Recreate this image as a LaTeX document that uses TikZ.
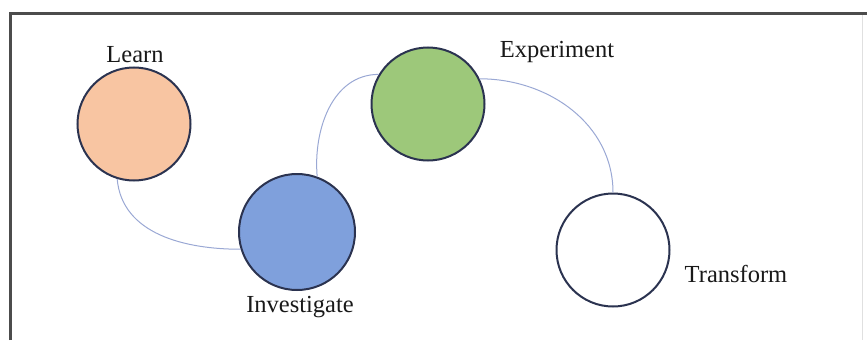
\documentclass[tikz,border=0pt]{standalone}
\usepackage{fontspec}
\setmainfont{Liberation Serif}
\definecolor{peach}{HTML}{F8C5A2}
\definecolor{steel}{HTML}{7FA0DC}
\definecolor{leaf}{HTML}{9DC87A}
\definecolor{rim}{HTML}{2B3350}
\definecolor{wire}{HTML}{9AA8D4}
\tikzset{
  stage/.style={circle, draw=rim, line width=2pt, minimum size=113pt, inner sep=0pt},
  caption/.style={font=\fontsize{24.5}{28}\selectfont, text=black!90},
  wire/.style={draw=wire, line width=1pt}
}
\begin{document}
\begin{tikzpicture}[x=1pt, y=-1pt]
          \useasboundingbox (0, 0) rectangle (867, 340);
          \draw[line width=3pt, black!70] (10, 340) -- (10, 13) -- (867, 13);
          \draw[black!12] (862, 15) -- (862, 340);
          \node[stage, fill=peach] (learn) at (134, 124) {};
          \node[stage, fill=steel, minimum size=116pt] (investigate) at (297, 232) {};
          \node[stage, fill=leaf] (experiment) at (428, 104) {};
          \node[stage, fill=white] (transform) at (613, 250) {};
          \node[caption] (learnlbl) at (135, 55) {Learn};
          \node[caption] (explbl) at (557, 52) {Experiment};
          \node[caption] (invlbl) at (300, 307) {Investigate};
          \node[caption] (trlbl) at (736, 274) {Transform};
          \draw[wire] (learn.253) to[out=-85, in=180] (investigate.197);
          \draw[wire] (investigate.70) to[out=95, in=180] (experiment.149);
          \draw[wire] (experiment.26) to[out=0, in=90] (transform.north);
    \end{tikzpicture}
\end{document}
